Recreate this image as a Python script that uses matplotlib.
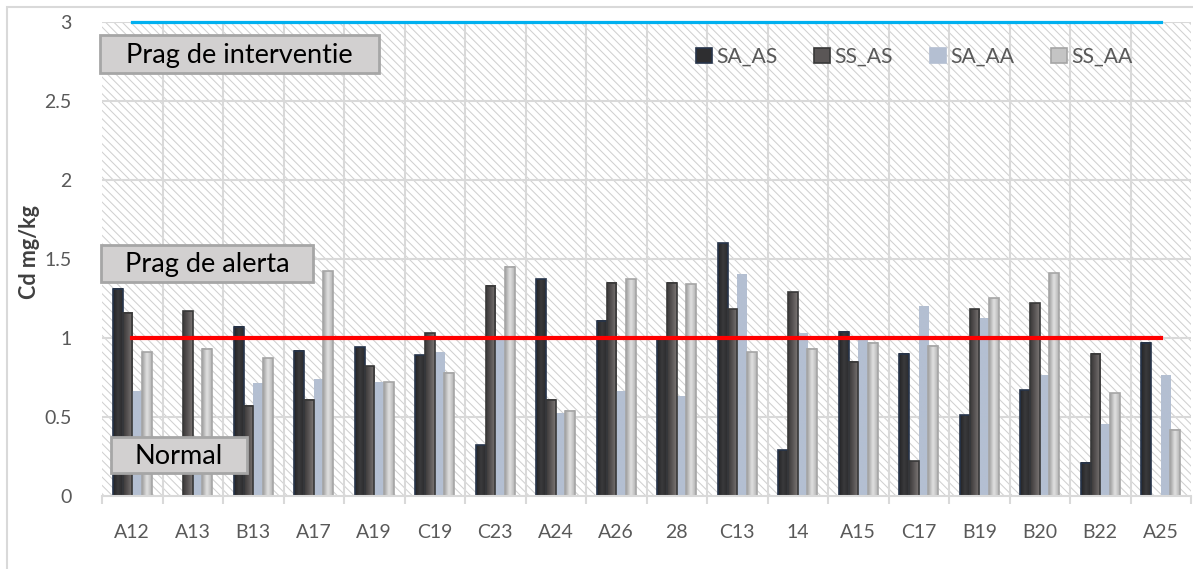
import matplotlib.pyplot as plt
import numpy as np
from matplotlib.colors import LinearSegmentedColormap
from matplotlib.patches import Patch, Rectangle

# ---------------------------------------------------------------
# Cd content (mg/kg) per sampling point, four sample types
# ---------------------------------------------------------------
puncte = ["A12", "A13", "B13", "A17", "A19", "C19", "C23", "A24", "A26",
          "28", "C13", "14", "A15", "C17", "B19", "B20", "B22", "A25"]

sa_as = [1.31, 0.00, 1.07, 0.92, 0.94, 0.89, 0.32, 1.37, 1.11,
         1.00, 1.60, 0.29, 1.04, 0.90, 0.51, 0.67, 0.21, 0.97]
ss_as = [1.16, 1.17, 0.57, 0.61, 0.82, 1.03, 1.33, 0.61, 1.35,
         1.35, 1.18, 1.29, 0.85, 0.22, 1.18, 1.22, 0.90, 0.00]
sa_aa = [0.66, 0.30, 0.71, 0.74, 0.72, 0.91, 0.99, 0.52, 0.66,
         0.63, 1.40, 1.03, 0.99, 1.20, 1.12, 0.76, 0.45, 0.76]
ss_aa = [0.91, 0.93, 0.87, 1.42, 0.72, 0.78, 1.45, 0.54, 1.37,
         1.34, 0.91, 0.93, 0.97, 0.95, 1.25, 1.41, 0.65, 0.42]

serii = ["SA_AS", "SS_AS", "SA_AA", "SS_AA"]

# threshold levels (mg/kg)
prag_alerta = [1.0] * len(puncte)
prag_interventie = [3.0] * len(puncte)

# ---------------------------------------------------------------
# styles: gradient stops (left -> right), flat colour, edge colour
# ---------------------------------------------------------------
stiluri = {
    "SA_AS": (["#232325", "#3a3a3c", "#2c2c2e"], "#2e2e30", "#26344a", 1.2),
    "SS_AS": (["#3a3838", "#5a5656", "#7c7775"], "#5a5656", "#383838", 1.2),
    "SA_AA": (["#b4bfd2", "#b4bfd2"], "#b4bfd2", "none", 0.0),
    "SS_AA": (["#9e9e9e", "#e2e2e2", "#b2b2b2"], "#c4c4c4", "#a5a5a5", 1.2),
}

W, H = 1193, 569
FONT = "Lato"
TXT = "#595959"

plt.rcParams["font.family"] = [FONT, "DejaVu Sans"]
plt.rcParams["hatch.linewidth"] = 0.75
plt.rcParams["hatch.color"] = "#d0d0d0"

fig = plt.figure(figsize=(W / 100, H / 100), dpi=100, facecolor="white")


def fx(px):
    return px / W


def fy(py):
    return 1 - py / H


# outer chart frame
fig.patches.append(Rectangle((fx(7), fy(600)), fx(1300), fy(7) - fy(600),
                             transform=fig.transFigure, fill=False,
                             edgecolor="#d9d9d9", lw=1.5, zorder=0))

ax = fig.add_axes([fx(102), fy(496), fx(1191) - fx(102), fy(21.7) - fy(496)])
ax.set_xlim(-0.5, len(puncte) - 0.5)
ax.set_ylim(0, 3)

# hatched plot background
ax.add_patch(Rectangle((0, 0), 1, 1, transform=ax.transAxes, facecolor="white",
                       edgecolor="#d0d0d0", hatch="\\\\\\\\", lw=0, zorder=0))

# grid
for yv in np.arange(0.5, 3.01, 0.5):
    ax.axhline(yv, color="#d9d9d9", lw=1.5, zorder=1)
for xv in np.arange(0.5, len(puncte) - 0.5, 1):
    ax.axvline(xv, color="#d9d9d9", lw=1.5, zorder=1)

# ---------------------------------------------------------------
# grouped bars with horizontal shading
# ---------------------------------------------------------------
x = np.arange(len(puncte))
latime = 0.16
valori = [sa_as, ss_as, sa_aa, ss_aa]
for i, (nume, vals) in enumerate(zip(serii, valori)):
    stops, plin, muchie, lw = stiluri[nume]
    cmap = LinearSegmentedColormap.from_list(nume, stops)
    xs = x + (i - 1.5) * latime
    bare = ax.bar(xs, vals, latime, color=plin, edgecolor="none", zorder=3)
    for b in bare:
        bx, bw, bh = b.get_x(), b.get_width(), b.get_height()
        if bh <= 0:
            continue
        ax.imshow(np.linspace(0, 1, 64)[np.newaxis, :], cmap=cmap,
                  extent=(bx, bx + bw, 0, bh), aspect="auto",
                  interpolation="bicubic", zorder=3.2)
    if lw > 0:
        ax.bar(xs, vals, latime, fill=False, edgecolor=muchie, lw=lw,
               zorder=3.4)

ax.set_xlim(-0.5, len(puncte) - 0.5)
ax.set_ylim(0, 3)
ax.set_aspect("auto")

# threshold lines
ax.plot(x, prag_alerta, color="#ff0000", lw=3.0, zorder=5)
ax.plot(x, prag_interventie, color="#00b0f0", lw=2.3, zorder=5, clip_on=False)

# axes, ticks
for s in ("top", "right", "left"):
    ax.spines[s].set_visible(False)
ax.spines["bottom"].set_color("#d9d9d9")
ax.spines["bottom"].set_linewidth(1.5)
ax.spines["bottom"].set_zorder(6)

ax.set_xticks(x)
ax.set_xticklabels(puncte)
ax.set_xticks(np.arange(-0.5, len(puncte), 1), minor=True)
ax.tick_params(axis="x", which="major", length=0, pad=20, labelsize=14,
               labelcolor=TXT)
ax.tick_params(axis="x", which="minor", length=6, width=1.5, color="#d9d9d9")
ax.set_yticks(np.arange(0, 3.01, 0.5))
ax.set_yticklabels(["0", "0.5", "1", "1.5", "2", "2.5", "3"])
ax.tick_params(axis="y", length=0, pad=22, labelsize=14, labelcolor=TXT)

fig.text(fx(29), fy(252), "Cd mg/kg", rotation=90, ha="center", va="center",
         fontsize=15.5, fontweight="bold", color="#404040")

# ---------------------------------------------------------------
# threshold labels
# ---------------------------------------------------------------
casete = [
    ("Prag de interventie", 100, 35, 379, 73),
    ("Prag de alerta", 101, 245, 313, 282),
    ("Normal", 111, 437, 247, 473),
]
for text, x0, y0, x1, y1 in casete:
    fig.patches.append(Rectangle((fx(x0), fy(y1)), fx(x1) - fx(x0),
                                 fy(y0) - fy(y1), transform=fig.transFigure,
                                 facecolor="#d2d0d0", edgecolor="#a6a6a6",
                                 lw=2.0, zorder=10))
    fig.text(fx((x0 + x1) / 2), fy((y0 + y1) / 2 + 1), text, ha="center",
             va="center", fontsize=19.5, color="black", zorder=11)

# legend
manere = [Patch(facecolor=stiluri[n][1],
                edgecolor=stiluri[n][2] if stiluri[n][3] > 0 else stiluri[n][1],
                lw=1.2) for n in serii]
leg = fig.legend(manere, serii, loc="center left",
                 bbox_to_anchor=(fx(696), fy(57)), ncol=4, frameon=False,
                 fontsize=15.2, handlelength=0.75, handleheight=0.75,
                 handletextpad=0.2, columnspacing=1.75, borderpad=0,
                 borderaxespad=0)
for t in leg.get_texts():
    t.set_color(TXT)

fig.savefig("out.png", dpi=100)
